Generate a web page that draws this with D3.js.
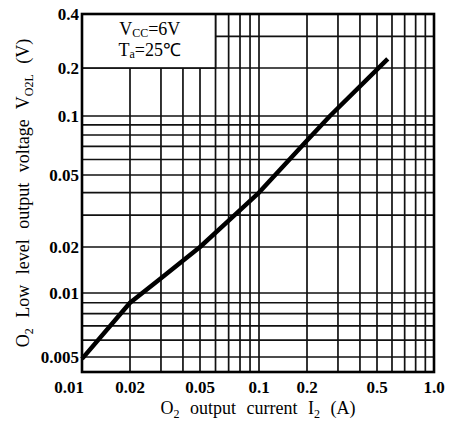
<!DOCTYPE html>
<html>
<head>
<meta charset="utf-8">
<script src="https://cdn.jsdelivr.net/npm/d3@7"></script>
<style>
  html, body { margin: 0; padding: 0; background: #fff; }
  svg { display: block; }
  text { font-family: "Liberation Serif", "Times New Roman", serif; fill: #000; }
</style>
</head>
<body>
<svg id="chart" width="451" height="423"></svg>
<script>
// ---- data ----
const xTickValues = [0.01, 0.02, 0.05, 0.1, 0.2, 0.5, 1.0];
const xTickLabels = ["0.01", "0.02", "0.05", "0.1", "0.2", "0.5", "1.0"];
const yTickValues = [0.4, 0.2, 0.1, 0.05, 0.02, 0.01, 0.005];
const yTickLabels = ["0.4", "0.2", "0.1", "0.05", "0.02", "0.01", "0.005"];
const xGridValues = [0.02, 0.03, 0.04, 0.05, 0.06, 0.07, 0.08, 0.09, 0.1,
                     0.2, 0.3, 0.4, 0.5, 0.6, 0.7, 0.8, 0.9];
const yGridValues = [0.005, 0.006, 0.007, 0.008, 0.009, 0.01,
                     0.02, 0.03, 0.04, 0.05, 0.06, 0.07, 0.08, 0.09, 0.1,
                     0.2, 0.3];
const outputCurrent = [0.01, 0.02, 0.03, 0.05, 0.07, 0.1, 0.2, 0.27, 0.57];   // I2 (A)
const outputVoltage = [0.0049, 0.009, 0.0125, 0.02, 0.028, 0.04, 0.075, 0.1, 0.225]; // VO2L (V)
const xMin = 0.01, xMax = 1.0, yMin = 0.00425, yMax = 0.4;
const noteBoxX = [0.01, 0.06], noteBoxY = [0.2, 0.4];

// ---- scales (log, piecewise to follow the printed log paper) ----
const x = d3.scaleLog()
  .domain([xMin, 0.02, 0.05, 0.1, 0.2, 0.5, xMax])
  .range([82, 130, 200, 259, 307, 377, 434]);
const y = d3.scaleLog()
  .domain([yMin, 0.005, 0.01, 0.02, 0.05, 0.1, 0.2, yMax])
  .range([372, 357, 293, 247, 175, 116, 68, 14]);

const svg = d3.select("#chart");
const L = x(xMin), R = x(xMax), T = y(yMax), B = y(yMin);

// grid
const g = svg.append("g");
g.selectAll("line.v").data(xGridValues).enter().append("line")
  .attr("x1", d => x(d)).attr("x2", d => x(d))
  .attr("y1", T).attr("y2", B)
  .attr("stroke", "#111").attr("stroke-width", 1.7);
g.selectAll("line.h").data(yGridValues).enter().append("line")
  .attr("x1", L).attr("x2", R)
  .attr("y1", d => y(d)).attr("y2", d => y(d))
  .attr("stroke", "#111").attr("stroke-width", 1.7);

// note box
svg.append("rect")
  .attr("x", x(noteBoxX[0])).attr("y", y(noteBoxY[1]))
  .attr("width", x(noteBoxX[1]) - x(noteBoxX[0]))
  .attr("height", y(noteBoxY[0]) - y(noteBoxY[1]))
  .attr("fill", "#fff").attr("stroke", "#111").attr("stroke-width", 1.7);

const cx = (x(noteBoxX[0]) + x(noteBoxX[1])) / 2 + 1;
const t1 = svg.append("text").attr("x", cx).attr("y", y(noteBoxY[1]) + 21)
  .attr("text-anchor", "middle").attr("font-size", 18);
t1.append("tspan").text("V");
t1.append("tspan").attr("font-size", 12).attr("dy", 2).text("CC");
t1.append("tspan").attr("dy", -2).text("=6V");
const t2 = svg.append("text").attr("x", cx).attr("y", y(noteBoxY[1]) + 42)
  .attr("text-anchor", "middle").attr("font-size", 18);
t2.append("tspan").text("T");
t2.append("tspan").attr("font-size", 12).attr("dy", 2).text("a");
t2.append("tspan").attr("dy", -2).text("=25℃");

// frame
svg.append("rect")
  .attr("x", L).attr("y", T).attr("width", R - L).attr("height", B - T)
  .attr("fill", "none").attr("stroke", "#000").attr("stroke-width", 2.6);

// curve
const line = d3.line().x(d => x(d[0])).y(d => y(d[1]));
svg.append("path")
  .datum(outputCurrent.map((c, i) => [c, outputVoltage[i]]))
  .attr("d", line)
  .attr("fill", "none").attr("stroke", "#000")
  .attr("stroke-width", 4.5).attr("stroke-linejoin", "round");

// tick labels
svg.selectAll("text.yt").data(yTickValues).enter().append("text")
  .attr("x", L - 3).attr("y", d => y(d)).attr("dy", "0.35em")
  .attr("text-anchor", "end").attr("font-size", 17).attr("font-weight", "bold")
  .text((d, i) => yTickLabels[i]);
svg.selectAll("text.xt").data(xTickValues).enter().append("text")
  .attr("x", (d, i) => i === 0 ? x(d) + 2 : x(d))
  .attr("y", B + 21)
  .attr("text-anchor", (d, i) => i === 0 ? "end" : "middle")
  .attr("font-size", 17).attr("font-weight", "bold")
  .text((d, i) => xTickLabels[i]);

// axis titles
const xt = svg.append("text").attr("x", (L + R) / 2).attr("y", 414)
  .attr("text-anchor", "middle").attr("font-size", 18).attr("word-spacing", 6);
xt.append("tspan").text("O");
xt.append("tspan").attr("font-size", 12).attr("dy", 4).text("2");
xt.append("tspan").attr("dy", -4).text(" output current I");
xt.append("tspan").attr("font-size", 12).attr("dy", 4).text("2");
xt.append("tspan").attr("dy", -4).text(" (A)");

const yt = svg.append("text")
  .attr("transform", `translate(29, ${(T + B) / 2}) rotate(-90)`)
  .attr("text-anchor", "middle").attr("font-size", 18).attr("word-spacing", 6);
yt.append("tspan").text("O");
yt.append("tspan").attr("font-size", 12).attr("dy", 4).text("2");
yt.append("tspan").attr("dy", -4).text(" Low level output voltage V");
yt.append("tspan").attr("font-size", 12).attr("dy", 4).text("O2L");
yt.append("tspan").attr("dy", -4).text(" (V)");
</script>
</body>
</html>
